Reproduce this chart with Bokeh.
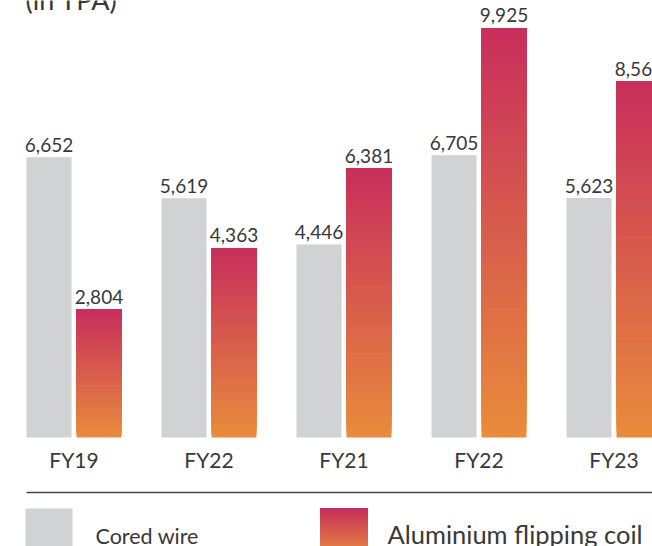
import numpy as np
from bokeh.plotting import figure
from bokeh.models import Range1d, ColumnDataSource
from bokeh.embed import file_html
from bokeh.resources import INLINE
from bokeh.core.properties import value

# ---- data ----
years = ["FY19", "FY22", "FY21", "FY22", "FY23"]
cored_wire = [6652, 5619, 4446, 6705, 5623]
aluminium_coil = [2804, 4363, 6381, 9925, 8569]
series_names = ["Cored wire", "Aluminium flipping coil"]
unit_label = "(in TPA)"

# ---- styles / layout ----
GRAY = "#D1D2D4"
TOP_COL = np.array([200, 46, 92])
BOT_COL = np.array([232, 140, 60])
TXT = "#383838"
FONT = value("Lato")
BL = 0.37            # baseline correction (fraction of font size)

W, H = 652, 546
UPP = 25.28          # value units per pixel
BASE = -430          # bar baseline value
BASE_PX = 437        # pixel row of the baseline
Y1 = BASE + BASE_PX * UPP
Y0 = BASE - (H - BASE_PX) * UPP
PPU = 135.0          # pixels per group
X0 = -73.5 / PPU
X1 = X0 + W / PPU
OFF = 0.185
BW = 0.333


def ys(py):
    return Y1 - py * (Y1 - Y0) / H


def xs(px):
    return X0 + px * (X1 - X0) / W


def hexcol(c):
    c = np.clip(np.round(c), 0, 255).astype(int)
    return "#%02x%02x%02x" % tuple(c)


def label(x, y, txt, fs, align="left", extra=0.0, **kw):
    p.text(x=x, y=y, text=txt, text_align=align, text_baseline="alphabetic",
           y_offset=extra - BL * fs, text_font=FONT, text_font_size=f"{fs}px",
           text_color=TXT, **kw)


p = figure(width=W, height=H, x_range=Range1d(X0, X1), y_range=Range1d(Y0, Y1),
           output_backend="svg", toolbar_location=None, min_border=0)
p.axis.visible = False
p.grid.visible = False
p.outline_line_color = None
p.background_fill_color = "white"
p.border_fill_color = "white"

idx = np.arange(len(years))

# gray bars
gsrc = ColumnDataSource(dict(x=idx - OFF, top=cored_wire, lab=[f"{v:,}" for v in cored_wire]))
p.vbar(x="x", top="top", bottom=BASE, width=BW, source=gsrc, fill_color=GRAY, line_color=None)

# gradient bars (stacked slices, each drawn from its bottom up to the bar top)
N = 60
xs_l, bots, tops, cols = [], [], [], []
for i, v in zip(idx, aluminium_coil):
    for k in range(N):
        t = (k + 0.5) / N
        xs_l.append(i + OFF)
        bots.append(BASE + (v - BASE) * k / N)
        tops.append(v)
        cols.append(hexcol(BOT_COL * (1 - t) + TOP_COL * t))
p.vbar(x=xs_l, bottom=bots, top=tops, width=BW, fill_color=cols, line_color=None)

rsrc = ColumnDataSource(dict(x=idx + OFF, top=aluminium_coil, lab=[f"{v:,}" for v in aluminium_coil]))

# value labels
for src in (gsrc, rsrc):
    label("x", "top", "lab", 19, align="center", extra=-5.5, source=src)

# category labels
label(idx, [ys(467)] * len(years), years, 21, align="center")

# unit label (partly cut at top like the reference)
label([xs(25)], [ys(9)], [unit_label], 27)

# separator line
p.segment(x0=[xs(26)], x1=[xs(660)], y0=[ys(492)], y1=[ys(492)], line_color="#444444", line_width=1.5)

# legend
p.quad(left=[xs(25)], right=[xs(72)], top=[ys(508)], bottom=[ys(570)], fill_color=GRAY, line_color=None)
lt, lb = ys(508), ys(556)
lb2, lt2, lc = [], [], []
for k in range(N):
    t = (k + 0.5) / N
    lb2.append(lb + (lt - lb) * k / N)
    lt2.append(lt)
    lc.append(hexcol(BOT_COL * (1 - t) + TOP_COL * t))
p.quad(left=[xs(320)] * N, right=[xs(367)] * N, bottom=lb2, top=lt2, fill_color=lc, line_color=None)

label([xs(95)], [ys(543)], [series_names[0]], 21.5)
label([xs(387)], [ys(543)], [series_names[1]], 25.5)

open("out.html", "w").write(file_html(p, INLINE))
